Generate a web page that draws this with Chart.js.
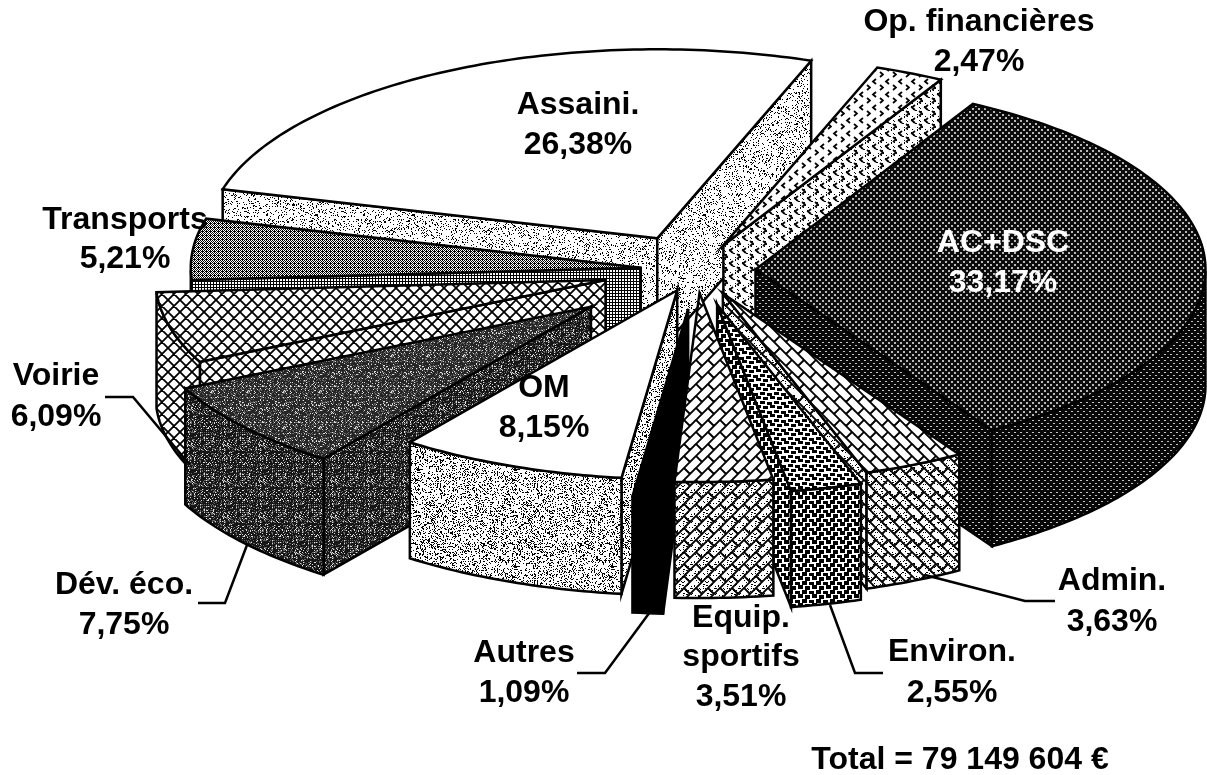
<!DOCTYPE html>
<html lang="fr">
<head>
<meta charset="utf-8">
<title>Répartition</title>
<script src="https://cdn.jsdelivr.net/npm/chart.js@4"></script>
<style>
  html, body { margin: 0; padding: 0; background: #fff; }
  canvas { display: block; }
</style>
</head>
<body>
<canvas id="chart" width="1207" height="775"></canvas>
<script>
const categories = ['Op. financières', 'AC+DSC', 'Admin.', 'Environ.', 'Equip. sportifs', 'Autres', 'OM', 'Dév. éco.', 'Voirie', 'Transports', 'Assaini.'];
const shares = [2.47, 33.17, 3.63, 2.55, 3.51, 1.09, 8.15, 7.75, 6.09, 5.21, 26.38];
const totalLabel = 'Total = 79 149 604 €';

// how far each slice is pulled out, px
const sliceOffsets = [65, 59, 62, 85, 55, 93, 52, 137, 94, 56, 85];
// painter's order, back to front
const drawOrder = [10, 0, 9, 8, 7, 1, 6, 2, 3, 5, 4];

const RADIUS = 450, TILT = 0.42, DEPTH = 116;

const ctx = document.getElementById('chart').getContext('2d');

function tile(w, h, draw) {
    const c = document.createElement('canvas');
    c.width = w; c.height = h;
    const t = c.getContext('2d');
    t.fillStyle = '#fff';
    t.fillRect(0, 0, w, h);
    t.fillStyle = '#000';
    t.strokeStyle = '#000';
    draw(t);
    return ctx.createPattern(c, 'repeat');
}

// fixed speckle, no Math.random so that the picture stays the same
function speckle(t, w, h, density, seed) {
    let s = seed;
    for (let y = 0; y < h; y++) {
        for (let x = 0; x < w; x++) {
            s = (s * 1103515245 + 12345) & 0x7fffffff;
            if ((s >> 8) % 100 < density) t.fillRect(x, y, 1, 1);
        }
    }
}

function bits(rows) {
    return tile(rows[0].length, rows.length, t => {
        rows.forEach((r, y) => [...r].forEach((b, x) => { if (b === '#') t.fillRect(x, y, 1, 1); }));
    });
}

function brick(t, flip, lw) {
    t.lineWidth = lw;
    t.beginPath();
    for (let ox = -24; ox <= 24; ox += 24) {
        for (let oy = -24; oy <= 24; oy += 24) {
            const seg = (a, b, c, d) => {
                t.moveTo(flip ? 24 - (a + ox) : a + ox, b + oy);
                t.lineTo(flip ? 24 - (c + ox) : c + ox, d + oy);
            };
            seg(-24, 24, 24, -24);
            seg(-12, 24, 24, -12);
            seg(0, 0, 6, 6); seg(12, -12, 18, -6); seg(12, 0, 18, 6); seg(0, 12, 6, 18);
        }
    }
    t.stroke();
}

function diamonds(t, n, lw) {
    t.lineWidth = lw;
    t.beginPath();
    for (let i = -n * 2; i <= n * 2; i += n) {
        t.moveTo(i, 0); t.lineTo(i + n, n);
        t.moveTo(i + n, 0); t.lineTo(i, n);
    }
    t.stroke();
}

function chevrons(t) {
    t.lineWidth = 1.8;
    t.beginPath();
    t.moveTo(5, 1); t.lineTo(2, 3.5); t.lineTo(5, 6);
    t.moveTo(9, 7); t.lineTo(12, 9.5); t.lineTo(9, 12);
    t.stroke();
}

function darkScreen(bg, dot, dotH) {
    return tile(6, 6, t => {
        t.fillStyle = bg;
        t.fillRect(0, 0, 6, 6);
        t.fillStyle = dot;
        t.fillRect(0, 0, 2, dotH);
        t.fillRect(3, 3, 2, dotH);
    });
}

function meshDark(base, seed) {
    return tile(36, 36, t => {
        t.fillStyle = base;
        t.fillRect(0, 0, 36, 36);
        t.fillStyle = '#666';
        speckle(t, 36, 36, 24, seed);
        t.fillStyle = '#ddd';
        speckle(t, 36, 36, 7, seed + 4);
        for (let i = 0; i < 36; i += 4) {
            t.fillRect(i, 8, 1, 1);
            t.fillRect(i + 2, 26, 1, 1);
            t.fillRect(8, i, 1, 1);
            t.fillRect(26, i + 2, 1, 1);
        }
    });
}

function blocks(w, h) {
    return tile(14, 9, t => {
        [[0, 0], [7, 1], [4, 5], [11, 6], [-3, 6]].forEach(p => t.fillRect(p[0], p[1], w, h));
    });
}

const white = '#fff', black = '#000';
const topFill = [
    tile(13, 13, chevrons),
    darkScreen('#0c0c0c', '#b8b8b8', 2),
    tile(24, 24, t => brick(t, true, 1.9)),
    blocks(5, 3),
    tile(24, 24, t => brick(t, false, 1.9)),
    black,
    white,
    meshDark('#262626', 11),
    tile(12, 12, t => diamonds(t, 12, 1.8)),
    bits(['#.#.', '.#.#', '#.#.', '.###']),
    white
];
const wallFill = [
    tile(13, 13, t => { chevrons(t); speckle(t, 13, 13, 12, 5); }),
    darkScreen('#080808', '#c4c4c4', 1),
    tile(24, 24, t => { brick(t, true, 1.9); speckle(t, 24, 24, 9, 7); }),
    blocks(5, 4),
    tile(24, 24, t => { brick(t, false, 1.9); speckle(t, 24, 24, 9, 9); }),
    black,
    tile(97, 97, t => speckle(t, 97, 97, 25, 21)),
    meshDark('#161616', 13),
    tile(12, 12, t => { diamonds(t, 12, 1.8); t.fillRect(5, 5, 2, 2); t.fillRect(11, 11, 1, 1); t.fillRect(0, 0, 1, 1); }),
    bits(['#..', '#..', '###']),
    tile(97, 97, t => speckle(t, 97, 97, 16, 31))
];

// text and leader lines sit outside the slices
const labelLayout = [
    { lines: ['Op. financières', '2,47%'], x: 979, y: [22, 62] },
    { lines: ['AC+DSC', '33,17%'], x: 1003, y: [243, 283], color: '#fff' },
    { lines: ['Admin.', '3,63%'], x: 1112, y: [581, 622] },
    { lines: ['Environ.', '2,55%'], x: 952, y: [652, 693] },
    { lines: ['Equip.', 'sportifs', '3,51%'], x: 741, y: [618, 657, 697] },
    { lines: ['Autres', '1,09%'], x: 524, y: [653, 693] },
    { lines: ['OM', '8,15%'], x: 544, y: [388, 428] },
    { lines: ['Dév. éco.', '7,75%'], x: 124, y: [585, 625] },
    { lines: ['Voirie', '6,09%'], x: 56, y: [376, 417] },
    { lines: ['Transports', '5,21%'], x: 125, y: [220, 259] },
    { lines: ['Assaini.', '26,38%'], x: 578, y: [105, 145] },
    { lines: [totalLabel], x: 960, y: [760] }
];
const leaders = [
    [[105, 397], [133, 397], [190, 465]],
    [[198, 603], [225, 603], [247, 545]],
    [[577, 673], [605, 673], [650, 612]],
    [[883, 673], [855, 673], [830, 605]],
    [[1055, 601], [1025, 601], [925, 575]]
];

const pie3d = {
    id: 'pie3d',
    beforeDatasetsDraw(chart) {
        const c = chart.ctx;
        const arcs = chart.getDatasetMeta(0).data;
        c.save();
        c.lineWidth = 2.5;
        c.lineJoin = 'miter';
        c.strokeStyle = '#000';
        drawOrder.forEach(i => {
            const arc = arcs[i];
            const mid = (arc.startAngle + arc.endAngle) / 2;
            const off = arc.options.offset;
            const ax = arc.x + off * Math.cos(mid);
            const ay = arc.y + off * Math.sin(mid) * TILT;
            const rim = a => [ax + RADIUS * Math.cos(a), ay + RADIUS * TILT * Math.sin(a)];
            const poly = (pts, fill) => {
                c.beginPath();
                pts.forEach((p, n) => n ? c.lineTo(p[0], p[1]) : c.moveTo(p[0], p[1]));
                c.closePath();
                c.fillStyle = fill;
                c.fill();
                c.stroke();
            };
            const down = p => [p[0], p[1] + DEPTH];
            const n = Math.ceil((arc.endAngle - arc.startAngle) * 180 / Math.PI);
            const angles = [];
            for (let k = 0; k <= n; k++) angles.push(arc.startAngle + (arc.endAngle - arc.startAngle) * k / n);

            if (Math.cos(arc.startAngle) < 0) {
                const p = rim(arc.startAngle);
                poly([[ax, ay], p, down(p), down([ax, ay])], wallFill[i]);
            }
            if (Math.cos(arc.endAngle) > 0) {
                const p = rim(arc.endAngle);
                poly([[ax, ay], p, down(p), down([ax, ay])], wallFill[i]);
            }
            const front = angles.filter(a => Math.sin(a) > 0).map(rim);
            if (front.length > 1) {
                poly(front.concat(front.slice().reverse().map(down)), wallFill[i]);
            }
            poly([[ax, ay]].concat(angles.map(rim)), topFill[i]);
        });
        c.restore();
        return false;
    },
    afterDraw(chart) {
        const c = chart.ctx;
        c.save();
        c.strokeStyle = '#000';
        c.lineWidth = 2.5;
        leaders.forEach(l => {
            c.beginPath();
            l.forEach((p, n) => n ? c.lineTo(p[0], p[1]) : c.moveTo(p[0], p[1]));
            c.stroke();
        });
        c.font = 'bold 32px "Liberation Sans", Arial, sans-serif';
        c.textAlign = 'center';
        c.textBaseline = 'middle';
        labelLayout.forEach(l => {
            c.fillStyle = l.color || '#000';
            l.lines.forEach((t, n) => c.fillText(t, l.x, l.y[n]));
        });
        c.restore();
    }
};

new Chart(ctx, {
    type: 'pie',
    data: {
        labels: categories,
        datasets: [{
            data: shares,
            offset: sliceOffsets,
            borderWidth: 0
        }]
    },
    options: {
        responsive: false,
        animation: false,
        events: [],
        rotation: 20,
        layout: { padding: { left: 186, bottom: 235 } },
        plugins: { legend: { display: false }, tooltip: { enabled: false } }
    },
    plugins: [pie3d]
});
</script>
</body>
</html>
